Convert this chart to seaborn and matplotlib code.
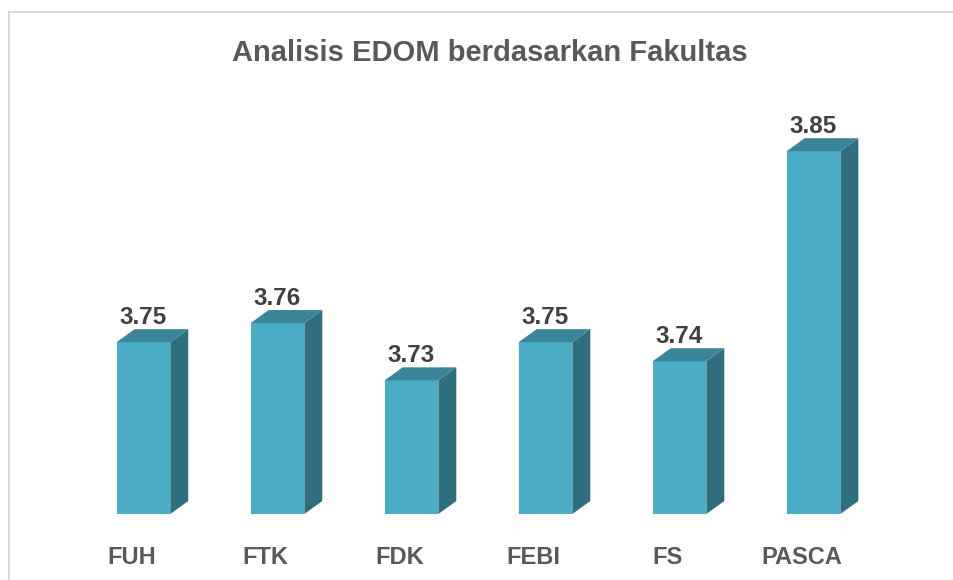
import matplotlib
matplotlib.use("Agg")
import matplotlib.pyplot as plt
import matplotlib.transforms as mtransforms
from matplotlib.patches import Polygon, Rectangle
import pandas as pd
import seaborn as sns

# data
fakultas = ["FUH", "FTK", "FDK", "FEBI", "FS", "PASCA"]
nilai = [3.75, 3.76, 3.73, 3.75, 3.74, 3.85]

df = pd.DataFrame({"fakultas": fakultas, "nilai": nilai})

sns.set_style("white")
plt.rcParams["font.family"] = ["Liberation Sans", "DejaVu Sans"]

front = "#4BACC6"
side = "#2F6E7D"
top = "#3A8599"

fig = plt.figure(figsize=(9.54, 5.80), dpi=100)
ax = fig.add_axes([0.0802, 0.1138, 0.8632, 0.7138])

ymin, ymax = 3.66, 3.8768
sns.barplot(data=df, x="fakultas", y="nilai", color=front, width=0.4,
            saturation=1, ax=ax, bottom=0)
ax.set_ylim(ymin, ymax)
ax.set_xlim(-0.5, 5.645)

# fake 3d depth (about 18 px right, 13 px up)
dx = 0.134
dy = 0.0068
for bar in ax.patches:
    x = bar.get_x()
    w = bar.get_width()
    h = bar.get_height()
    bar.set_edgecolor("none")
    ax.add_patch(Polygon([(x + w, ymin), (x + w + dx, ymin + dy),
                          (x + w + dx, h + dy), (x + w, h)],
                         closed=True, facecolor=side, edgecolor="none", clip_on=False))
    ax.add_patch(Polygon([(x, h), (x + dx, h + dy), (x + w + dx, h + dy), (x + w, h)],
                         closed=True, facecolor=top, edgecolor="none", clip_on=False))
    ax.text(x + w / 2, h + dy + 0.0002, f"{h:.2f}", ha="center", va="bottom",
            fontsize=17.5, fontweight="bold", color="#404040")

ax.set_xlabel("")
ax.set_ylabel("")
ax.set_yticks([])
for s in ax.spines.values():
    s.set_visible(False)
ax.tick_params(axis="x", length=0, pad=23)
shift = mtransforms.ScaledTranslation(-0.12, 0, fig.dpi_scale_trans)
for lab in ax.get_xticklabels():
    lab.set_fontsize(17)
    lab.set_fontweight("bold")
    lab.set_color("#595959")
    lab.set_transform(lab.get_transform() + shift)

fig.text(0.5136, 0.908, "Analisis EDOM berdasarkan Fakultas", ha="center", va="center",
         fontsize=21, fontweight="bold", color="#595959")

fig.patches.append(Rectangle((0.0094, -0.1), 1.2, 1.079, transform=fig.transFigure,
                             fill=False, edgecolor="#D9D9D9", linewidth=1.5))

fig.savefig("out.png", dpi=100)
